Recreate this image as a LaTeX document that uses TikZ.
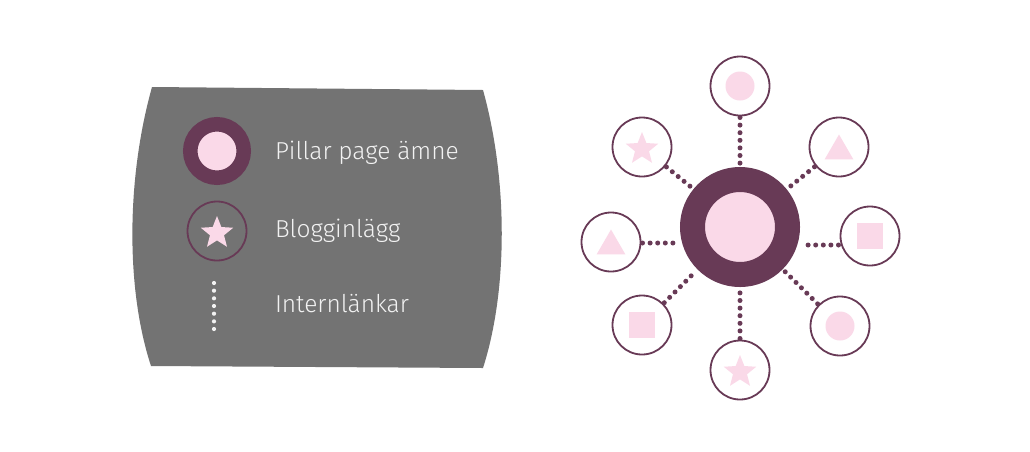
\documentclass[tikz,border=0pt]{standalone}
\usepackage{fontspec}
\setmainfont{Fira Sans Light}
\usetikzlibrary{shapes.geometric, positioning, calc}
\definecolor{plum}{HTML}{683A56}
\definecolor{blush}{HTML}{FAD9E8}
\definecolor{slate}{HTML}{737373}
\definecolor{chalk}{HTML}{F2F2F2}
\tikzset{
	every node/.style={
		inner sep=0pt,
		outer sep=0pt
	},
	pillar/.style={
		shape=circle,
		draw=plum,
		fill=blush,
		line width=25pt,
		minimum size=95pt,
		outer sep=12.5pt
	},
	pillarkey/.style={
		shape=circle,
		draw=plum,
		fill=blush,
		line width=14.5pt,
		minimum size=53.5pt
	},
	post/.style={
		shape=circle,
		draw=plum,
		fill=white,
		line width=1.8pt,
		minimum size=59pt
	},
	dotmark/.style={
		shape=circle,
		fill=blush,
		minimum size=29pt
	},
	trianglemark/.style={
		shape=regular polygon,
		regular polygon sides=3,
		fill=blush,
		minimum size=33pt,
		yshift=-4pt
	},
	squaremark/.style={
		shape=rectangle,
		fill=blush,
		minimum size=26pt
	},
	starmark/.style={
		shape=star,
		star points=5,
		star point ratio=2.3,
		fill=blush,
		minimum size=34pt,
		yshift=-2pt
	},
	link/.style={
		draw=plum,
		line width=5pt,
		line cap=round,
		dash pattern=on 0pt off 7.6pt,
		shorten >=2pt,
		shorten <=2pt
	},
	keylink/.style={
		draw=chalk,
		line width=4.2pt,
		line cap=round,
		dash pattern=on 0pt off 7.67pt
	},
	keytext/.style={
		text=chalk,
		font=\fontsize{24.5}{29}\selectfont,
		anchor=base west
	}
}

\begin{document}
\begin{tikzpicture}[x=1pt,y=-1pt]
	\useasboundingbox (0,0) rectangle (1030,451);
	
	% legend panel
	\fill[slate] (152,87) -- (483,90) .. controls (508,180) and (508,290) .. (483,368)
		-- (151,366) .. controls (126,290) and (126,180) .. cycle;
	
	\node[pillarkey] (keyhub)  at (217,151) {};
	\node[post, fill=none] (keypost) at (217,231) {};
	\node[starmark]  (keystar) at (keypost) {};
	\coordinate (keya) at (214,283);
	\coordinate (keyb) at (214,329.3);
	\draw[keylink] (keya) -- (keyb);
	
	\node[keytext] (hubtext)  at (275,159) {Pillar page ämne};
	\node[keytext] (posttext) at (275,237) {Blogginlägg};
	\node[keytext] (linktext) at (275,312) {Internlänkar};
	
	% cluster
	\node[post] (n)  at (740,86)  {};
	\node[post] (ne) at (839,147) {};
	\node[post] (e)  at (870,236) {};
	\node[post] (se) at (840,326) {};
	\node[post] (s)  at (740,370) {};
	\node[post] (sw) at (642,325) {};
	\node[post] (w)  at (611,242) {};
	\node[post] (nw) at (642,147) {};
	\node[pillar] (hub) at (740,227) {};
	
	\node[dotmark]      (n-mark)  at (n)  {};
	\node[trianglemark] (ne-mark) at (ne) {};
	\node[squaremark]   (e-mark)  at (e)  {};
	\node[dotmark]      (se-mark) at (se) {};
	\node[starmark]     (s-mark)  at (s)  {};
	\node[squaremark]   (sw-mark) at (sw) {};
	\node[trianglemark] (w-mark)  at (w)  {};
	\node[starmark]     (nw-mark) at (nw) {};
	
	\draw[link] (n) -- (hub);
	\draw[link] (s) -- (hub);
	\draw[link] (ne) -- (hub);
	\draw[link] (se) -- (hub);
	\draw[link] (sw) -- (hub);
	\draw[link] (nw) -- (hub);
	\draw[link] ([yshift=-1pt]w.east) -- ([yshift=-1pt]w.east -| hub.west);
	\draw[link] ([yshift=-9pt]e.west) -- ([yshift=-9pt]e.west -| hub.east);
\end{tikzpicture}
\end{document}
